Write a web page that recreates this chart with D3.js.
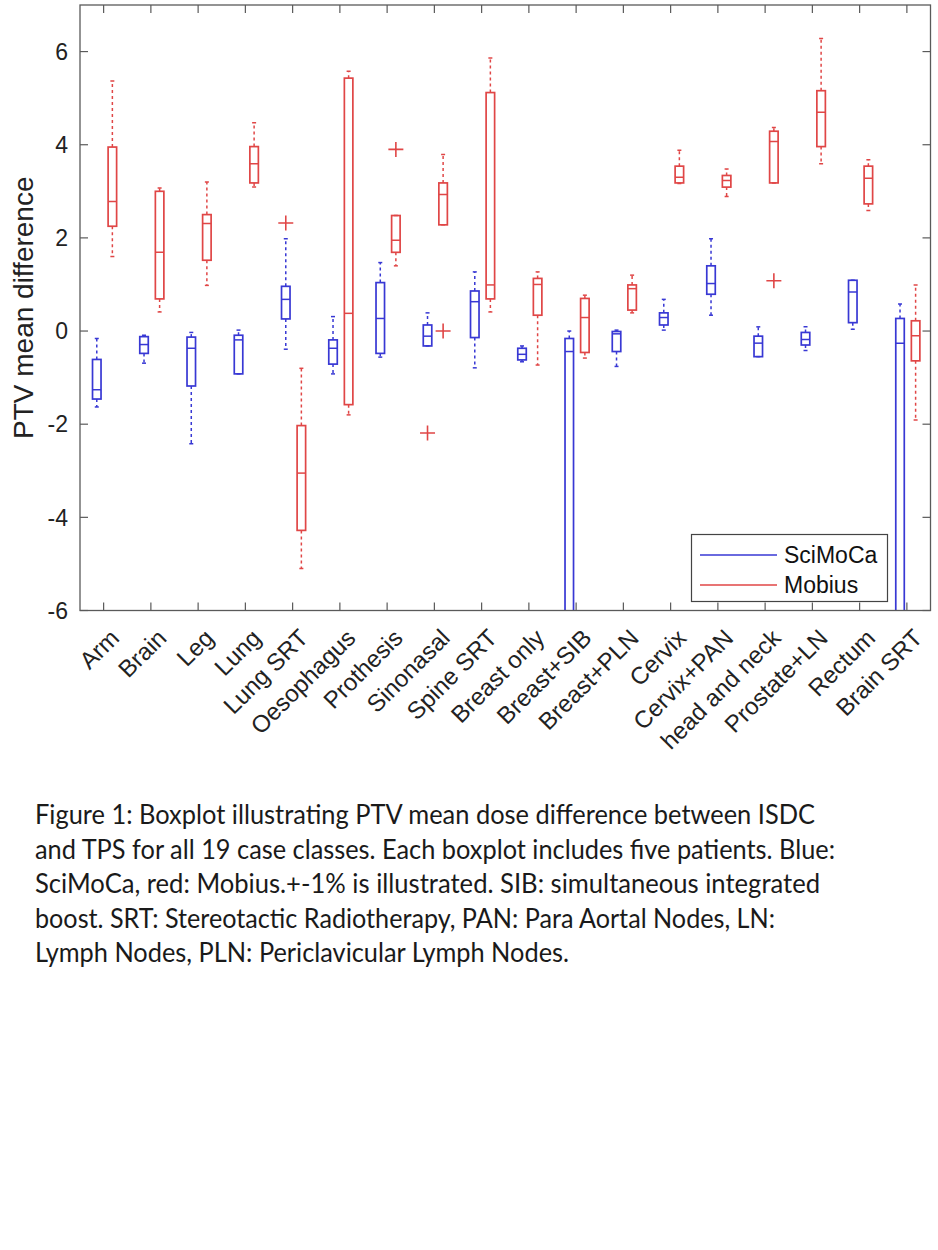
<!DOCTYPE html>
<html><head><meta charset="utf-8">
<script src="https://cdn.jsdelivr.net/npm/d3@7"></script>
<style>
body{margin:0;background:#fff;}
svg{display:block;}
</style></head>
<body>
<script>
// ---- data ----
const categories = ["Arm","Brain","Leg","Lung","Lung SRT","Oesophagus","Prothesis","Sinonasal","Spine SRT","Breast only","Breast+SIB","Breast+PLN","Cervix","Cervix+PAN","head and neck","Prostate+LN","Rectum","Brain SRT"];
const yTicks = [-6,-4,-2,0,2,4,6];
const seriesNames = ["SciMoCa","Mobius"];

// SciMoCa (blue)
const sciLow  = [-1.63,-0.69,-2.42,-0.92,-0.39,-0.92,-0.56,-0.32,-0.79,-0.66,-10,-0.76,0.02,0.34,-0.55,-0.42,0.04,-10];
const sciQ1   = [-1.46,-0.48,-1.18,-0.92, 0.26,-0.71,-0.48,-0.32,-0.14,-0.62,-9,-0.44,0.13,0.79,-0.55,-0.30,0.18,-9];
const sciMed  = [-1.26,-0.29,-0.37,-0.19, 0.68,-0.37, 0.27,-0.11, 0.63,-0.50,-0.44,-0.06,0.29,1.02,-0.26,-0.18,0.84,-0.26];
const sciQ3   = [-0.61,-0.12,-0.13,-0.09, 0.96,-0.19, 1.04, 0.13, 0.86,-0.37,-0.16,-0.01,0.39,1.40,-0.11,-0.03,1.09,0.27];
const sciHigh = [-0.16,-0.09,-0.03, 0.02, 1.98, 0.31, 1.47, 0.39, 1.27,-0.32, 0.00, 0.02,0.68,1.98, 0.09, 0.09,1.09,0.58];
const sciOutCat = [4, 7];
const sciOutVal = [2.32, -2.19];

// Mobius (red)
const mobLow  = [1.60,0.41,0.98,3.09,-5.10,-1.80,1.40,2.28,0.41,-0.73,-0.58,0.39,3.17,2.89,3.18,3.59,2.59,-1.91];
const mobQ1   = [2.25,0.69,1.52,3.18,-4.28,-1.58,1.69,2.28,0.69, 0.34,-0.46,0.45,3.18,3.09,3.18,3.96,2.73,-0.64];
const mobMed  = [2.78,1.69,2.31,3.59,-3.05, 0.38,1.95,2.93,0.99, 1.00, 0.29,0.91,3.30,3.23,4.07,4.70,3.28,-0.10];
const mobQ3   = [3.95,3.00,2.50,3.96,-2.03, 5.43,2.48,3.18,5.12, 1.13, 0.70,0.99,3.54,3.34,4.29,5.16,3.54,0.22];
const mobHigh = [5.37,3.07,3.20,4.47,-0.80, 5.58,2.48,3.79,5.86, 1.27, 0.77,1.20,3.88,3.48,4.37,6.28,3.68,0.99];
const mobOutCat = [6, 7, 14];
const mobOutVal = [3.90, 0.00, 1.08];

const captionLines = [
 "Figure 1: Boxplot illustrating PTV mean dose difference between ISDC",
 "and TPS for all  19 case classes. Each boxplot includes five patients. Blue:",
 "SciMoCa, red: Mobius.+-1% is illustrated. SIB: simultaneous integrated",
 "boost. SRT: Stereotactic Radiotherapy, PAN: Para Aortal Nodes, LN:",
 "Lymph Nodes, PLN: Periclavicular Lymph Nodes."
];
const captionWidths = [780, 800, 785, 740, 534];

// ---- layout ----
const W = 938, H = 1250;
const L = 80, R = 930.5, T = 5, B = 610.5;
const blue = "#3838d4", red = "#e04646", axisCol = "#5a5a5a";
const font = "'Liberation Sans', Arial, sans-serif";

const svg = d3.select("body").append("svg").attr("width", W).attr("height", H);

const x = d3.scaleLinear().domain([0.5, categories.length + 0.5]).range([L, R]);
const y = d3.scaleLinear().domain([-6, 7]).range([B, T]);

svg.append("defs").append("clipPath").attr("id","clip")
  .append("rect").attr("x", L).attr("y", T).attr("width", R - L).attr("height", B - T);

const plot = svg.append("g").attr("clip-path","url(#clip)");

const boxW = x(1.09) - x(0.91);
const capW = 4;

function drawSeries(lo, q1, med, q3, hi, offset, color, outCat, outVal) {
  const g = plot.append("g");
  categories.forEach((c, i) => {
    const cx = x(i + 1 + offset);
    g.append("line").attr("x1", cx).attr("x2", cx).attr("y1", y(q3[i])).attr("y2", y(hi[i]))
      .attr("stroke", color).attr("stroke-width", 1.5).attr("stroke-dasharray", "3,3");
    g.append("line").attr("x1", cx).attr("x2", cx).attr("y1", y(q1[i])).attr("y2", y(lo[i]))
      .attr("stroke", color).attr("stroke-width", 1.5).attr("stroke-dasharray", "3,3");
    [lo[i], hi[i]].forEach(v => {
      g.append("line").attr("x1", cx - capW/2).attr("x2", cx + capW/2).attr("y1", y(v)).attr("y2", y(v))
        .attr("stroke", color).attr("stroke-width", 1.5);
    });
    g.append("rect").attr("x", cx - boxW/2).attr("width", boxW)
      .attr("y", y(q3[i])).attr("height", Math.max(0.5, y(q1[i]) - y(q3[i])))
      .attr("fill", "none").attr("stroke", color).attr("stroke-width", 1.7);
    g.append("line").attr("x1", cx - boxW/2).attr("x2", cx + boxW/2).attr("y1", y(med[i])).attr("y2", y(med[i]))
      .attr("stroke", color).attr("stroke-width", 1.5);
  });
  outCat.forEach((ci, k) => {
    const cx = x(ci + 1 + offset), cy = y(outVal[k]);
    const s = 7.5;
    g.append("path").attr("d", `M${cx - s},${cy}H${cx + s}M${cx},${cy - s}V${cy + s}`)
      .attr("stroke", red).attr("stroke-width", 1.6).attr("fill","none");
  });
}

drawSeries(sciLow, sciQ1, sciMed, sciQ3, sciHigh, -0.145, blue, sciOutCat, sciOutVal);
drawSeries(mobLow, mobQ1, mobMed, mobQ3, mobHigh, 0.185, red, mobOutCat, mobOutVal);

// ---- axes frame ----
const ax = svg.append("g");
ax.append("rect").attr("x", L).attr("y", T).attr("width", R - L).attr("height", B - T)
  .attr("fill","none").attr("stroke", axisCol).attr("stroke-width", 1.3);

const tickLen = 8;
const xt = d3.range(1, categories.length + 1);
xt.forEach(t => {
  ax.append("line").attr("x1", x(t)).attr("x2", x(t)).attr("y1", B).attr("y2", B - tickLen).attr("stroke", axisCol).attr("stroke-width",1.2);
  ax.append("line").attr("x1", x(t)).attr("x2", x(t)).attr("y1", T).attr("y2", T + tickLen).attr("stroke", axisCol).attr("stroke-width",1.2);
});
yTicks.forEach(t => {
  ax.append("line").attr("x1", L).attr("x2", L + tickLen).attr("y1", y(t)).attr("y2", y(t)).attr("stroke", axisCol).attr("stroke-width",1.2);
  ax.append("line").attr("x1", R).attr("x2", R - tickLen).attr("y1", y(t)).attr("y2", y(t)).attr("stroke", axisCol).attr("stroke-width",1.2);
  ax.append("text").attr("x", L - 12).attr("y", y(t)).attr("dy", "0.36em")
    .attr("text-anchor","end").attr("font-family", font).attr("font-size", 23).attr("fill","#222")
    .text(t);
});

// x tick labels (rotated)
categories.forEach((c, i) => {
  const px = x(i + 1) + 17, py = B + 29;
  ax.append("text").attr("transform", `translate(${px},${py}) rotate(-45)`)
    .attr("text-anchor","end").attr("font-family", font).attr("font-size", 24).attr("fill","#222")
    .text(c);
});

// y label
ax.append("text").attr("transform", `translate(33,${(T + B) / 2}) rotate(-90)`)
  .attr("text-anchor","middle").attr("font-family", font).attr("font-size", 28).attr("fill","#222")
  .text("PTV mean difference");

// ---- legend ----
const lg = svg.append("g");
lg.append("rect").attr("x", 691.5).attr("y", 534.5).attr("width", 196).attr("height", 67)
  .attr("fill","#fff").attr("stroke", "#444").attr("stroke-width", 1.2);
const legendColors = [blue, red];
seriesNames.forEach((n, i) => {
  const ly = 555 + i * 30;
  lg.append("line").attr("x1", 700).attr("x2", 777).attr("y1", ly).attr("y2", ly)
    .attr("stroke", legendColors[i]).attr("stroke-width", 1.6);
  lg.append("text").attr("x", 784).attr("y", ly).attr("dy","0.36em")
    .attr("font-family", font).attr("font-size", 23).attr("fill","#111").text(n);
});

// ---- caption ----
captionLines.forEach((s, i) => {
  svg.append("text").attr("x", 35).attr("y", 824 + i * 34.5)
    .attr("font-family", "Lato, 'Open Sans', sans-serif").attr("font-size", 26).attr("fill","#1a1a1a")
    .attr("textLength", captionWidths[i]).attr("lengthAdjust","spacingAndGlyphs")
    .text(s);
});
</script>
</body></html>
